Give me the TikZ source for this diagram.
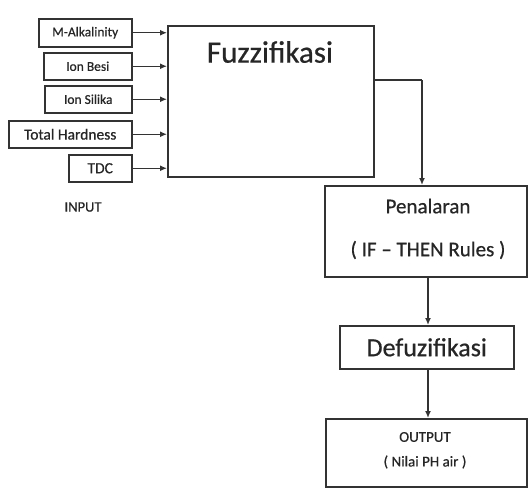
\documentclass[tikz,border=0pt]{standalone}
\usepackage{fontspec}
\setmainfont{Carlito}[AutoFakeBold=0.6]
\usetikzlibrary{arrows.meta,calc}
\definecolor{linec}{HTML}{333333}
\definecolor{txtc}{HTML}{262626}
\tikzset{
  box/.style={draw=linec, line width=1.5pt, inner sep=0pt, anchor=north west, fill=white},
  lbl/.style={text=txtc, inner sep=0pt, anchor=center, font=\bfseries},
  arr/.style={draw=linec, line width=1.4pt, -{Latex[length=7pt,width=6pt]}},
  ln/.style={draw=linec, line width=1.4pt}
}
\begin{document}
\begin{tikzpicture}[x=1pt,y=-1pt]
\useasboundingbox[fill=white] (0,0) rectangle (528,488);
% input boxes
\node[box, minimum width=93pt, minimum height=28pt] (ma) at (38,18) {};
\node[box, minimum width=88pt, minimum height=27pt] (ib) at (43,52) {};
\node[box, minimum width=87pt, minimum height=27pt] (is) at (44,85) {};
\node[box, minimum width=123pt, minimum height=27pt] (th) at (8,120) {};
\node[box, minimum width=63pt, minimum height=27pt] (tdc) at (68,154) {};
\node[lbl, font=\bfseries\fontsize{13.5}{15}\selectfont] (mat) at (ma.center) {M-Alkalinity};
\node[lbl, font=\bfseries\fontsize{13.5}{15}\selectfont] (ibt) at (ib.center) {Ion Besi};
\node[lbl, font=\bfseries\fontsize{13.5}{15}\selectfont] (ist) at (is.center) {Ion Silika};
\node[lbl, font=\bfseries\fontsize{15.5}{17}\selectfont] (tht) at (th.center) {Total Hardness};
\node[lbl, font=\bfseries\fontsize{15.5}{17}\selectfont] (tdct) at (tdc.center) {TDC};
\node[lbl, font=\bfseries\fontsize{14.5}{16}\selectfont] (inp) at (83,207) {INPUT};
% fuzzifikasi
\node[box, minimum width=206pt, minimum height=151pt] (fuzz) at (167,25) {};
\node[lbl, font=\bfseries\fontsize{31}{34}\selectfont] (fuzzt) at (270,52) {Fuzzifikasi};
% penalaran
\node[box, minimum width=202pt, minimum height=91pt] (pen) at (324,185) {};
\node[lbl, font=\bfseries\fontsize{21}{24}\selectfont] (pent1) at (428,206) {Penalaran};
\node[lbl, font=\bfseries\fontsize{21}{24}\selectfont] (pent2) at (428,250) {( IF – THEN Rules )};
% defuzifikasi
\node[box, minimum width=174pt, minimum height=43pt] (defuz) at (339,325) {};
\node[lbl, font=\bfseries\fontsize{26}{28}\selectfont] (defuzt) at (defuz.center) {Defuzifikasi};
% output
\node[box, minimum width=201pt, minimum height=68pt] (out) at (325,418) {};
\node[lbl, font=\bfseries\fontsize{15}{17}\selectfont] (outt1) at (425,437) {OUTPUT};
\node[lbl, font=\bfseries\fontsize{15}{17}\selectfont] (outt2) at (425,462) {( Nilai PH air )};
% input arrows
\foreach \n in {ma,ib,is,th,tdc}{
  \draw[arr] (\n.east) -- (\n.east -| fuzz.west);
}
% fuzz -> penalaran
\coordinate (f1) at (373,80);
\coordinate (f2) at (422,80);
\draw[ln] (f1) -- (f2);
\draw[arr] (f2) -- (f2 |- pen.north);
% penalaran -> defuz
\draw[arr] (pen.south -| 428,0) -- (defuz.north -| 428,0);
% defuz -> output
\draw[arr] (defuz.south -| 428,0) -- (out.north -| 428,0);
\end{tikzpicture}
\end{document}
